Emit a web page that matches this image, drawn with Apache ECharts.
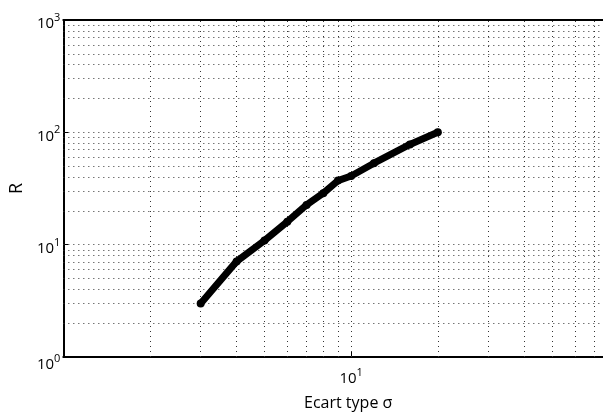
<!DOCTYPE html>
<html>
<head>
<meta charset="utf-8">
<script src="https://cdn.jsdelivr.net/npm/echarts@6/dist/echarts.min.js"></script>
<style>
html,body{margin:0;padding:0;background:#fff;}
#chart{width:603px;height:417px;}
</style>
</head>
<body>
<div id="chart"></div>
<script>
// Data (log-log)
var sigmaValues = [3, 4, 5, 6, 7, 8, 9, 10, 12, 16, 20];
var rValues = [3.0, 7.1, 10.9, 16.0, 22.6, 28.7, 37.2, 40.9, 53.1, 78, 100];
var xGridValues = [2,3,4,5,6,7,8,9,10,20,30,40,50,60,70];
var yGridValues = [2,3,4,5,6,7,8,9,10,20,30,40,50,60,70,80,90,100,200,300,400,500,600,700,800,900];
var xAxisTitle = 'Ecart type σ';
var yAxisTitle = 'R';
// visible x range: the figure is cropped on the right at about σ = 75
var xMin = 1, xMaxVisible = 75;

var FONT = '"Open Sans", "Noto Sans", sans-serif';

function expLabel(v, isY) {
  var e = Math.round(Math.log10(v));
  if (isY && e === 0) return '{b0|10}{e0|' + e + '}';
  return '{b|10}{e|' + e + '}';
}
var rich = {
  b: {fontSize: 15, fontFamily: FONT, color: '#000', padding: [8, 0, 0, 0]},
  e: {fontSize: 11, fontFamily: FONT, color: '#000', padding: [0, 0, 4, 0]},
  b0: {fontSize: 15, fontFamily: FONT, color: '#000', padding: [16, 0, 0, 0]},
  e0: {fontSize: 11, fontFamily: FONT, color: '#000', padding: [4, 0, 0, 0]}
};

var gridLineStyle = {color: '#333', width: 1, type: [1, 4]};
var markData = [];
xGridValues.forEach(function (v) { markData.push({xAxis: v}); });
yGridValues.forEach(function (v) { markData.push({yAxis: v}); });

var chart = echarts.init(document.getElementById('chart'), null, {renderer: 'canvas'});
chart.setOption({
  animation: false,
  backgroundColor: '#fff',
  grid: {left: 61, right: 0, top: 20, bottom: 60},
  xAxis: [{
    type: 'log', logBase: 10, min: xMin, max: xMaxVisible,
    name: xAxisTitle, nameLocation: 'middle', nameGap: 38,
    nameTextStyle: {fontSize: 16, fontFamily: FONT, color: '#000', padding: [0, 0, 0, 30]},
    axisLine: {show: true, onZero: false, lineStyle: {color: '#000', width: 2}},
    axisTick: {show: true, inside: true, length: 5, lineStyle: {color: '#000'}},
    splitLine: {show: false},
    axisLabel: {showMinLabel: false, showMaxLabel: false, margin: 6,
      formatter: function (v) { return expLabel(v, false); }, rich: rich}
  }, {
    type: 'log', logBase: 10, min: xMin, max: xMaxVisible, position: 'top',
    axisLine: {show: true, onZero: false, lineStyle: {color: '#000', width: 2}},
    axisTick: {show: false}, axisLabel: {show: false}, splitLine: {show: false}
  }],
  yAxis: {
    type: 'log', logBase: 10, min: 1, max: 1000,
    name: yAxisTitle, nameLocation: 'middle', nameGap: 30,
    nameTextStyle: {fontSize: 18, fontFamily: FONT, color: '#000'},
    axisLine: {show: true, onZero: false, lineStyle: {color: '#000', width: 2}},
    axisTick: {show: true, inside: true, length: 5, lineStyle: {color: '#000'}},
    splitLine: {show: false},
    axisLabel: {margin: 3,
      formatter: function (v) { return expLabel(v, true); }, rich: rich}
  },
  series: [{
    type: 'line',
    data: [],
    silent: true,
    markLine: {
      silent: true, symbol: 'none', animation: false,
      label: {show: false},
      lineStyle: gridLineStyle,
      emphasis: {disabled: true},
      data: markData
    }
  }, {
    type: 'line',
    data: sigmaValues.map(function (x, i) { return [x, rValues[i]]; }),
    lineStyle: {color: '#000', width: 7, cap: 'round', join: 'round'},
    itemStyle: {color: '#000'},
    symbol: 'circle', symbolSize: 8, showSymbol: true,
    z: 5
  }]
});
</script>
</body>
</html>
